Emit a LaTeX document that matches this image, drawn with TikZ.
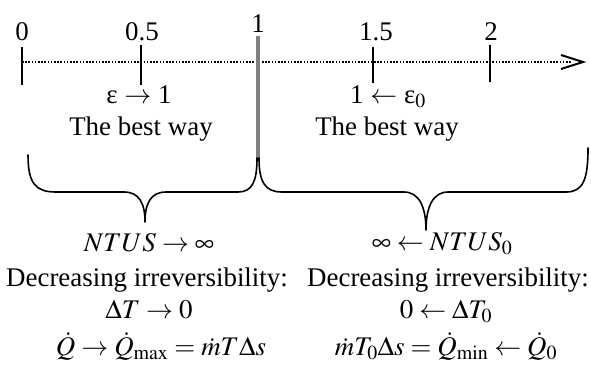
\documentclass[tikz,border=0pt]{standalone}
\usepackage{mathptmx}
\usepackage{fontspec}
\setmainfont{Liberation Serif}
\usetikzlibrary{arrows.meta}
\tikzset{
  lbl/.style={inner sep=0pt, anchor=base, font=\fontsize{27}{30}\selectfont},
  tick/.style={line width=1.5bp, black},
  axisline/.style={line width=2bp, dash pattern=on 1.6bp off 1.6bp},
  tipline/.style={line width=2bp, line join=miter},
  bar/.style={line width=4bp, black!50},
  bracestyle/.style={line width=1.6bp, line cap=round, line join=round}
}
\begin{document}
\begin{tikzpicture}[x=1bp, y=-1bp]
\useasboundingbox (0,0) rectangle (591,376);
% axis
\coordinate (a0) at (22,62);
\coordinate (aend) at (583,62);
\draw[axisline] (a0) -- (572,62);
\draw[tipline] (561,55) -- (aend) -- (561,69);
% ticks
\draw[tick] (22,47) -- (22,85);
\draw[tick] (141,45) -- (141,85);
\draw[tick] (373,47) -- (373,83);
\draw[tick] (490,45) -- (490,82);
\draw[bar] (258,36) -- (258,158);
% tick labels
\node[lbl] (l0) at (22,40) {0};
\node[lbl] (l05) at (142,40) {0.5};
\node[lbl] (l1) at (258,32) {1};
\node[lbl] (l15) at (376,40) {1.5};
\node[lbl] (l2) at (491,40) {2};
% under-axis labels
\node[lbl] (eps1) at (139,103) {ε $\to$ 1};
\node[lbl] (eps0) at (388,103) {1 $\leftarrow$ ε$_0$};
\node[lbl] (bw1) at (141,135) {The best way};
\node[lbl] (bw2) at (387,135) {The best way};
% braces
\draw[bracestyle] (28,155) .. controls (28,184) and (36,192) .. (56,192)
  -- (124,192) .. controls (139,192) and (145,203) .. (145,222)
  .. controls (145,203) and (151,192) .. (166,192)
  -- (238,192) .. controls (252,192) and (257,182) .. (257,158);
\draw[bracestyle] (259,158) .. controls (259,182) and (265,192) .. (282,192)
  -- (404,192) .. controls (419,192) and (426,207) .. (426,230)
  .. controls (426,207) and (433,192) .. (448,192)
  -- (566,192) .. controls (583,192) and (588,180) .. (588,148);
% lower texts
\node[lbl] (ntu1) at (149,251) {$NTUS\to\infty$};
\node[lbl] (ntu2) at (442,250) {$\infty\leftarrow NTUS_0$};
\node[lbl] (dec1) at (147,286) {Decreasing irreversibility:};
\node[lbl] (dec2) at (448,286) {Decreasing irreversibility:};
\node[lbl] (dt1) at (149,318) {$\Delta T\to 0$};
\node[lbl] (dt2) at (446,318) {$0\leftarrow \Delta T_0$};
\node[lbl] (q1) at (161,355) {$\dot Q\to \dot Q_{\max}=\dot m T\Delta s$};
\node[lbl] (q2) at (446,355) {$\dot m T_0\Delta s=\dot Q_{\min}\leftarrow \dot Q_0$};
\end{tikzpicture}
\end{document}
